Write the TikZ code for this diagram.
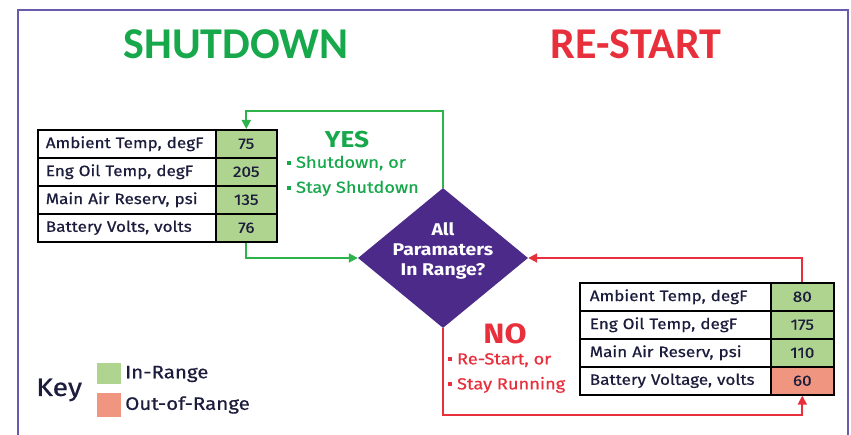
\documentclass[tikz,border=0pt]{standalone}
\usepackage{fontspec}
\setmainfont[FakeStretch=1.14]{Fira Sans}
\newfontfamily\titlefont{Carlito}
\newfontfamily\tblfont[FakeStretch=1.14,FakeBold=0.6]{Fira Sans}
\usetikzlibrary{shapes.geometric,arrows.meta}
\definecolor{gtxt}{HTML}{17A84B}
\definecolor{garr}{HTML}{2DB34A}
\definecolor{rtxt}{HTML}{E8303C}
\definecolor{purp}{HTML}{4B2A8A}
\definecolor{framec}{HTML}{6A5AAE}
\definecolor{cellg}{HTML}{AFD48F}
\definecolor{cellr}{HTML}{F0957F}
\definecolor{ink}{HTML}{1C1C3C}
\begin{document}
\begin{tikzpicture}[x=1pt,y=-1pt,
  cellbase/.style={draw=black,line width=1.6pt,minimum height=28pt,inner ysep=0pt,anchor=north west,text=ink,font=\tblfont\fontsize{15}{17}\selectfont},
  lblL/.style={cellbase,fill=white,text width=162pt,inner xsep=8pt,align=left},
  lblR/.style={cellbase,fill=white,text width=171pt,inner xsep=10pt,align=left},
  valL/.style={cellbase,fill=cellg,minimum width=61pt,inner xsep=0pt},
  valR/.style={cellbase,fill=cellg,minimum width=63pt,inner xsep=0pt},
  bad/.style={fill=cellr},
  decision/.style={diamond,fill=purp,minimum width=170pt,minimum height=140pt,inner sep=0pt},
  garrow/.style={draw=garr,line width=1.8pt,-{Triangle[length=9pt,width=9pt]}},
  rarrow/.style={draw=rtxt,line width=1.8pt,-{Triangle[length=9pt,width=9pt]}},
  title/.style={font=\titlefont\bfseries\fontsize{44}{48}\selectfont},
  bullets/.style={anchor=west,align=left,inner sep=0pt,font=\tblfont\fontsize{16}{25}\selectfont},
  keytxt/.style={anchor=west,text=ink,inner sep=0pt,font=\tblfont\fontsize{18}{20}\selectfont}]
\useasboundingbox (0,0) rectangle (851,435);
% frame
\draw[framec,line width=2.6pt] (18,440) -- (18,10) -- (848,10) -- (848,440);
% titles
\node[title,text=gtxt] (tsd) at (236,44) {SHUTDOWN};
\node[title,text=rtxt] (trs) at (636,44) {RE-START};
% left table
\node[lblL] (l1) at (37,129) {Ambient Temp, degF};
\node[lblL] (l2) at (37,157) {Eng Oil Temp, degF};
\node[lblL] (l3) at (37,185) {Main Air Reserv, psi};
\node[lblL] (l4) at (37,213) {Battery Volts, volts};
\node[valL] (lv1) at (215,129) {75};
\node[valL] (lv2) at (215,157) {205};
\node[valL] (lv3) at (215,185) {135};
\node[valL] (lv4) at (215,213) {76};
% right table
\node[lblR] (r1) at (579,282) {Ambient Temp, degF};
\node[lblR] (r2) at (579,310) {Eng Oil Temp, degF};
\node[lblR] (r3) at (579,338) {Main Air Reserv, psi};
\node[lblR] (r4) at (579,366) {Battery Voltage, volts};
\node[valR] (rv1) at (770,282) {80};
\node[valR] (rv2) at (770,310) {175};
\node[valR] (rv3) at (770,338) {110};
\node[valR,bad] (rv4) at (770,366) {60};
% decision
\node[decision] (d) at (443,258) {};
\node[text=white,font=\bfseries\fontsize{17}{20}\selectfont,align=center] (dt) at (443,251) {All\\Paramaters\\In Range?};
% YES / NO
\node[text=gtxt,font=\bfseries\fontsize{23}{25}\selectfont] (yes) at (347,140) {YES};
\node[bullets,text=gtxt] (yesb) at (287,176) {\rule[0.2em]{4pt}{4pt}\ Shutdown, or\\\rule[0.2em]{4pt}{4pt}\ Stay Shutdown};
\node[text=rtxt,font=\bfseries\fontsize{28}{30}\selectfont] (no) at (505,334) {NO};
\node[bullets,text=rtxt] (nob) at (448,373) {\rule[0.2em]{4pt}{4pt}\ Re-Start, or\\\rule[0.2em]{4pt}{4pt}\ Stay Running};
% connectors
\draw[garrow] (d.north) -- (d.north |- 0,111) -| (lv1.north);
\draw[garrow] (lv4.south) |- (d.west);
\draw[rarrow] (rv1.north) |- (d.east);
\draw[rarrow] (d.south) -- (d.south |- 0,415) -| (rv4.south);
% key
\node[anchor=west,text=ink,font=\tblfont\fontsize{25}{27}\selectfont,inner sep=0pt] (key) at (36,390) {Key};
\node[fill=cellg,minimum width=24pt,minimum height=21pt,inner sep=0pt,anchor=north west] (kg) at (97,363) {};
\node[fill=cellr,minimum width=24pt,minimum height=24pt,inner sep=0pt,anchor=north west] (kr) at (97,393) {};
\node[keytxt] (kgl) at (125,374) {In-Range};
\node[keytxt] (krl) at (125,405) {Out-of-Range};
\end{tikzpicture}
\end{document}
